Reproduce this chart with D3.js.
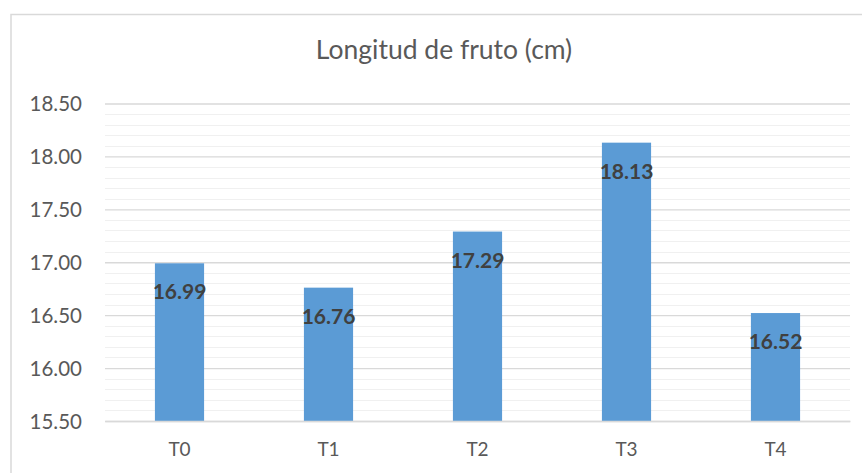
<!DOCTYPE html>
<html>
<head>
<meta charset="utf-8">
<script src="https://cdn.jsdelivr.net/npm/d3@7/dist/d3.min.js"></script>
<style>
  html, body { margin: 0; padding: 0; background: #fff; }
  svg { display: block; }
</style>
</head>
<body>
<script>
const categories = ["T0", "T1", "T2", "T3", "T4"];
const values = [16.99, 16.76, 17.29, 18.13, 16.52];
const majorTicks = [15.5, 16.0, 16.5, 17.0, 17.5, 18.0, 18.5];
const titleText = "Longitud de fruto (cm)";

const W = 862, H = 473;
const font = "Lato, 'Open Sans', sans-serif";
const svg = d3.select("body").append("svg").attr("width", W).attr("height", H);

// chart frame
svg.append("rect")
  .attr("x", 11).attr("y", 14.5)
  .attr("width", 880).attr("height", 500)
  .attr("fill", "#fff").attr("stroke", "#d9d9d9").attr("stroke-width", 1.5);

const x = d3.scaleBand().domain(categories).range([105, 850]).paddingInner(0.67).paddingOuter(0.335);
const y = d3.scaleLinear().domain([15.5, 18.5]).range([421, 103.5]);

// minor gridlines
const minor = d3.range(0, 31).map(i => 15.5 + i * 0.1).filter((v, i) => i % 5 !== 0);
svg.append("g").selectAll("line").data(minor).join("line")
  .attr("x1", 105).attr("x2", 850)
  .attr("y1", d => Math.round(y(d)) + 0.5).attr("y2", d => Math.round(y(d)) + 0.5)
  .attr("stroke", "#f0f0f0").attr("stroke-width", 1.2);

// major gridlines via axis
const yAxis = d3.axisLeft(y).tickValues(majorTicks).tickFormat(d3.format(".2f")).tickSize(-(850 - 105)).tickPadding(23);
const gy = svg.append("g").attr("transform", "translate(105,0)").call(yAxis);
gy.select(".domain").remove();
gy.selectAll(".tick line").attr("stroke", "#d9d9d9").attr("stroke-width", 1.3);
gy.selectAll(".tick text")
  .attr("fill", "#595959").attr("font-family", font).attr("font-size", 20.5)
  .attr("dy", "0.35em");

// bars
svg.append("g").selectAll("rect").data(values).join("rect")
  .attr("x", (d, i) => x(categories[i]))
  .attr("width", x.bandwidth())
  .attr("y", d => y(d))
  .attr("height", d => y(15.5) - y(d))
  .attr("fill", "#5b9bd5");

// x axis
const xAxis = d3.axisBottom(x).tickSize(0).tickPadding(22);
const gx = svg.append("g").attr("transform", "translate(0,421)").call(xAxis);
gx.select(".domain").attr("stroke", "#d9d9d9").attr("stroke-width", 1.3);
gx.selectAll(".tick text")
  .attr("fill", "#595959").attr("font-family", font).attr("font-size", 19);

// data labels
svg.append("g").selectAll("text").data(values).join("text")
  .attr("x", (d, i) => x(categories[i]) + x.bandwidth() / 2)
  .attr("y", d => y(d) + 36)
  .attr("text-anchor", "middle")
  .attr("font-family", font).attr("font-weight", "bold").attr("font-size", 21)
  .attr("fill", "#404040")
  .text(d => d3.format(".2f")(d));

// title
svg.append("text")
  .attr("x", 444).attr("y", 59)
  .attr("text-anchor", "middle")
  .attr("font-family", font).attr("font-size", 26.5)
  .attr("fill", "#595959")
  .text(titleText);
</script>
</body>
</html>
